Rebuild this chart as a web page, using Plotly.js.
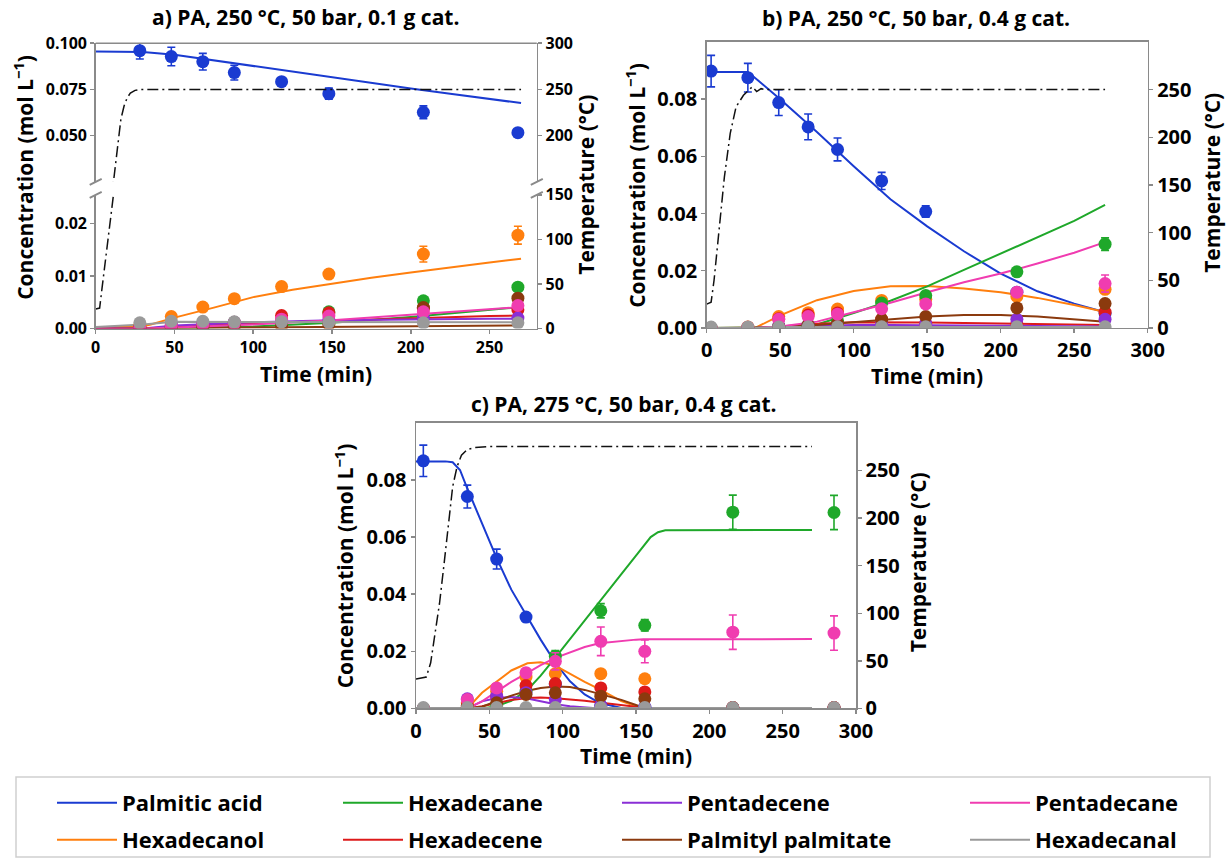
<!DOCTYPE html>
<html><head><meta charset="utf-8">
<script src="https://cdn.plot.ly/plotly-3.0.1.min.js"></script>
<style>html,body{margin:0;padding:0;background:#fff;}#chart{width:1227px;height:861px;}</style>
</head><body><div id="chart"></div>
<script>
// ================= DATA =================
const speciesNames = ['Palmitic acid','Hexadecanol','Hexadecane','Hexadecene','Pentadecene','Palmityl palmitate','Pentadecane','Hexadecanal'];

// ---- Panel a: PA, 250 °C, 50 bar, 0.1 g cat. ----
const aTime = [28, 48, 68, 88, 118, 148, 208, 268];
const aPalmiticAcid    = [0.0960, 0.0928, 0.0900, 0.0841, 0.0792, 0.0727, 0.0626, 0.0516];
const aPalmiticAcidErr = [0.0045, 0.0050, 0.0045, 0.0040, 0.0020, 0.0030, 0.0035, 0.0010];
const aHexadecanol     = [0.0005, 0.0023, 0.0041, 0.0057, 0.0080, 0.0104, 0.0142, 0.0178];
const aHexadecanolErr  = [0, 0.0003, 0.0004, 0.0005, 0.0006, 0.0007, 0.0015, 0.0017];
const aHexadecane      = [0.0002, 0.0003, 0.0005, 0.0007, 0.0015, 0.0032, 0.0053, 0.0079];
const aHexadecene      = [0.0002, 0.0006, 0.0008, 0.0012, 0.0025, 0.0030, 0.0039, 0.0036];
const aPentadecene     = [0.0002, 0.0008, 0.0010, 0.0012, 0.0015, 0.0017, 0.0020, 0.0020];
const aPalmitylPalm    = [0.0001, 0.0002, 0.0003, 0.0004, 0.0005, 0.0008, 0.0040, 0.0058];
const aPentadecane     = [0.0002, 0.0005, 0.0008, 0.0010, 0.0018, 0.0024, 0.0032, 0.0044];
const aHexadecanal     = [0.0011, 0.0014, 0.0014, 0.0013, 0.0013, 0.0012, 0.0011, 0.0011];

const aFitTimePA = [0, 25, 30, 50, 75, 100, 125, 150, 175, 200, 225, 250, 270];
const aFitPalmiticAcid = [0.0955, 0.0955, 0.0953, 0.0938, 0.0907, 0.0876, 0.0846, 0.0815, 0.0785, 0.0755, 0.0727, 0.0700, 0.0676];
const aFitTimeOl = [0, 28, 35, 50, 75, 100, 125, 150, 175, 200, 225, 250, 270];
const aFitHexadecanol = [0.0003, 0.0003, 0.0008, 0.0021, 0.0040, 0.0060, 0.0074, 0.0086, 0.0097, 0.0107, 0.0117, 0.0126, 0.0133];
const aFitTime = [0, 30, 50, 100, 150, 200, 250, 270];
const aFitHexadecane   = [0, 0, 0.0001, 0.0004, 0.0011, 0.0022, 0.0035, 0.0041];
const aFitHexadecene   = [0, 0, 0.0003, 0.0010, 0.0015, 0.0020, 0.0024, 0.0025];
const aFitPentadecene  = [0, 0, 0.0006, 0.0012, 0.0016, 0.0018, 0.0019, 0.0019];
const aFitPalmitylPalm = [0, 0, 0.0001, 0.0002, 0.0003, 0.0004, 0.0005, 0.0006];
const aFitPentadecane  = [0, 0, 0.0002, 0.0008, 0.0016, 0.0026, 0.0036, 0.0041];
const aFitHexadecanal  = [0.0003, 0.0008, 0.0013, 0.0013, 0.0013, 0.0012, 0.0012, 0.0012];
const aTempTime = [0, 2.5, 4, 6, 8, 10, 12, 14, 16, 18, 20, 22, 25, 28, 32, 270];
const aTemp     = [22, 23, 45, 75, 105, 135, 165, 195, 218, 232, 241, 246, 249, 250, 250, 250];

// ---- Panel b: PA, 250 °C, 50 bar, 0.4 g cat. ----
const bTime = [3, 28, 49, 69, 89, 119, 149, 211, 271];
const bPalmiticAcid    = [0.0898, 0.0875, 0.0788, 0.0703, 0.0624, 0.0514, 0.0407, 0.0125, 0.0050];
const bPalmiticAcidErr = [0.0055, 0.0050, 0.0045, 0.0045, 0.0040, 0.0030, 0.0020, 0.0010, 0.0010];
const bHexadecanol     = [0, 0.0003, 0.0040, 0.0053, 0.0066, 0.0096, 0.0100, 0.0110, 0.0135];
const bHexadecanolErr  = [0, 0, 0.0004, 0.0005, 0.0006, 0.0008, 0.0008, 0.0010, 0.0012];
const bHexadecane      = [0, 0, 0.0005, 0.0010, 0.0025, 0.0087, 0.0113, 0.0196, 0.0293];
const bHexadecaneErr   = [0, 0, 0, 0, 0, 0.0010, 0.0012, 0.0012, 0.0022];
const bHexadecene      = [0, 0.0002, 0.0032, 0.0045, 0.0052, 0.0030, 0.0015, 0.0015, 0.0055];
const bPentadecene     = [0, 0, 0.0008, 0.0010, 0.0012, 0.0013, 0.0015, 0.0030, 0.0030];
const bPalmitylPalm    = [0, 0, 0.0005, 0.0010, 0.0015, 0.0030, 0.0040, 0.0070, 0.0085];
const bPentadecane     = [0, 0.0002, 0.0030, 0.0040, 0.0048, 0.0067, 0.0084, 0.0125, 0.0155];
const bPentadecaneErr  = [0, 0, 0, 0, 0, 0.0010, 0.0010, 0.0015, 0.0030];
const bHexadecanal     = [0.0003, 0.0003, 0.0003, 0.0004, 0.0004, 0.0004, 0.0004, 0.0004, 0.0004];

const bFitTimePA = [0, 28, 35, 50, 75, 100, 125, 150, 175, 200, 225, 250, 271];
const bFitPalmiticAcid = [0.0895, 0.0895, 0.0865, 0.0800, 0.0685, 0.0565, 0.0450, 0.0355, 0.0268, 0.0190, 0.0128, 0.0085, 0.0055];
const bFitTime = [0, 33, 50, 75, 100, 125, 150, 175, 200, 225, 250, 271];
const bFitHexadecanol  = [0, 0, 0.0044, 0.0097, 0.0129, 0.0146, 0.0147, 0.0138, 0.0125, 0.0105, 0.0080, 0.0056];
const bFitHexadecane   = [0, 0, 0.0002, 0.0012, 0.0052, 0.0095, 0.0145, 0.0203, 0.0260, 0.0316, 0.0374, 0.0430];
const bFitHexadecene   = [0, 0, 0.0005, 0.0015, 0.0020, 0.0020, 0.0019, 0.0017, 0.0015, 0.0013, 0.0011, 0.0010];
const bFitPentadecene  = [0, 0, 0.0004, 0.0008, 0.0010, 0.0010, 0.0010, 0.0009, 0.0008, 0.0007, 0.0006, 0.0005];
const bFitPalmitylPalm = [0, 0, 0.0002, 0.0010, 0.0020, 0.0032, 0.0040, 0.0045, 0.0045, 0.0040, 0.0031, 0.0022];
const bFitPentadecane  = [0, 0, 0.0005, 0.0022, 0.0055, 0.0088, 0.0125, 0.0160, 0.0190, 0.0225, 0.0263, 0.0300];
const bFitHexadecanal  = [0, 0, 0.0003, 0.0003, 0.0003, 0.0003, 0.0003, 0.0003, 0.0003, 0.0003, 0.0003, 0.0003];
const bTempTime = [0, 3, 5, 8, 12, 16, 20, 25, 28, 31, 34, 37, 40, 271];
const bTemp     = [25, 27, 50, 99, 158, 204, 232, 244, 248, 253, 248, 251, 250, 250];

// ---- Panel c: PA, 275 °C, 50 bar, 0.4 g cat. ----
const cTime = [5, 35, 55, 75, 95, 126, 156, 216, 285];
const cPalmiticAcid    = [0.0867, 0.0742, 0.0523, 0.0320, 0.0085, 0.0010, 0.0005, 0.0003, 0.0003];
const cPalmiticAcidErr = [0.0055, 0.0040, 0.0035, 0.0015, 0.0010, 0, 0, 0, 0];
const cHexadecanol     = [0, 0.0020, 0.0060, 0.0110, 0.0122, 0.0122, 0.0104, 0.0003, 0.0003];
const cHexadecane      = [0, 0, 0.0010, 0.0060, 0.0183, 0.0342, 0.0291, 0.0687, 0.0686];
const cHexadecaneErr   = [0, 0, 0, 0, 0.0020, 0.0025, 0.0020, 0.0060, 0.0060];
const cHexadecene      = [0, 0.0010, 0.0040, 0.0080, 0.0087, 0.0072, 0.0058, 0.0003, 0.0003];
const cPentadecene     = [0, 0.0034, 0.0043, 0.0055, 0.0031, 0.0010, 0.0005, 0.0002, 0.0002];
const cPalmitylPalm    = [0, 0.0005, 0.0020, 0.0049, 0.0055, 0.0043, 0.0034, 0.0002, 0.0002];
const cPentadecane     = [0, 0.0031, 0.0072, 0.0125, 0.0165, 0.0235, 0.0200, 0.0267, 0.0264];
const cPentadecaneErr  = [0, 0, 0.0010, 0.0015, 0.0030, 0.0050, 0.0040, 0.0060, 0.0060];
const cHexadecanal     = [0.0003, 0.0003, 0.0003, 0.0003, 0.0003, 0.0003, 0.0003, 0.0003, 0.0003];

const cFitTime = [0, 20, 25, 30, 35, 45, 55, 65, 76, 85, 95, 105, 115, 125, 140, 150, 155, 160, 165, 170, 270];
const cFitPalmiticAcid = [0.0865, 0.0865, 0.0862, 0.0835, 0.0770, 0.0648, 0.0526, 0.0416, 0.0320, 0.0241, 0.0160, 0.0095, 0.0049, 0.0020, 0.0002, 0.0001, 0, 0, 0, 0, 0];
const cFitHexadecanol  = [0, 0, 0, 0, 0, 0.0055, 0.0095, 0.0133, 0.0158, 0.0162, 0.0150, 0.0122, 0.0093, 0.0068, 0.0026, 0.0008, 0.0002, 0, 0, 0, 0];
const cFitHexadecane   = [0, 0, 0, 0, 0, 0, 0.0008, 0.0027, 0.0065, 0.0115, 0.0178, 0.0242, 0.0307, 0.0373, 0.0470, 0.0535, 0.0568, 0.0600, 0.0617, 0.0624, 0.0625];
const cFitHexadecene   = [0, 0, 0, 0, 0, 0.0008, 0.0020, 0.0030, 0.0037, 0.0038, 0.0036, 0.0032, 0.0027, 0.0021, 0.0012, 0.0005, 0.0002, 0, 0, 0, 0];
const cFitPentadecene  = [0, 0, 0, 0, 0, 0.0025, 0.0037, 0.0040, 0.0035, 0.0025, 0.0015, 0.0008, 0.0003, 0, 0, 0, 0, 0, 0, 0, 0];
const cFitPalmitylPalm = [0, 0, 0, 0, 0, 0.0006, 0.0025, 0.0045, 0.0062, 0.0072, 0.0077, 0.0075, 0.0065, 0.0052, 0.0030, 0.0012, 0.0003, 0, 0, 0, 0];
const cFitPentadecane  = [0, 0, 0, 0, 0, 0.0025, 0.0060, 0.0093, 0.0125, 0.0152, 0.0177, 0.0197, 0.0215, 0.0228, 0.0237, 0.0241, 0.0242, 0.0242, 0.0243, 0.0243, 0.0243];
const cFitHexadecanal  = [0.0002, 0.0002, 0.0002, 0.0002, 0.0002, 0.0002, 0.0002, 0.0002, 0.0002, 0.0002, 0.0002, 0.0002, 0.0002, 0.0002, 0.0002, 0.0002, 0.0002, 0.0002, 0.0002, 0.0002, 0.0002];
const cTempTime = [0, 7, 10, 13, 16, 19, 22, 25, 28, 31, 35, 40, 50, 270];
const cTemp     = [31, 33, 48, 80, 110, 150, 195, 233, 254, 266, 272, 274, 275, 275];

// axis tick labels
const aLowTicks = [0, 0.01, 0.02], aLowLabels = ['0.00', '0.01', '0.02'];
const aUpTicks = [0.05, 0.075, 0.1], aUpLabels = ['0.050', '0.075', '0.100'];
const aTempLowTicks = [0, 50, 100, 150], aTempUpTicks = [200, 250, 300];
const concTicks = [0, 0.02, 0.04, 0.06, 0.08], concLabels = ['0.00', '0.02', '0.04', '0.06', '0.08'];
const tempTicks = [0, 50, 100, 150, 200, 250];
const aTimeTicks = [0, 50, 100, 150, 200, 250];
const bcTimeTicks = [0, 50, 100, 150, 200, 250, 300];

// ================= STYLE =================
const colors = {
  'Palmitic acid': '#1a3bd1', 'Hexadecanol': '#ff7f0e', 'Hexadecane': '#1fa82a', 'Hexadecene': '#dd1a1a',
  'Pentadecene': '#8a2fd6', 'Palmityl palmitate': '#8b3a0e', 'Pentadecane': '#f03cb0', 'Hexadecanal': '#9a9a9a'
};
const legendOf = {
  'Palmitic acid': 'legend', 'Hexadecane': 'legend2', 'Pentadecene': 'legend3', 'Pentadecane': 'legend4',
  'Hexadecanol': 'legend5', 'Hexadecene': 'legend6', 'Palmityl palmitate': 'legend7', 'Hexadecanal': 'legend8'
};
const FONT = '"Open Sans", "Noto Sans", sans-serif';
const W = 1227, H = 861;
const PX = x => x / W, PY = y => 1 - y / H;
const SPINE = '#8a8a8a';

const panels = {
  a: {time: aTime, x: 'x',
      markers: [aPalmiticAcid, aHexadecanol, aHexadecane, aHexadecene, aPentadecene, aPalmitylPalm, aPentadecane, aHexadecanal],
      errs: {'Palmitic acid': aPalmiticAcidErr, 'Hexadecanol': aHexadecanolErr},
      fits: [[aFitTimePA, aFitPalmiticAcid], [aFitTimeOl, aFitHexadecanol], [aFitTime, aFitHexadecane], [aFitTime, aFitHexadecene],
             [aFitTime, aFitPentadecene], [aFitTime, aFitPalmitylPalm], [aFitTime, aFitPentadecane], [aFitTime, aFitHexadecanal]],
      yFor: name => name === 'Palmitic acid' ? 'y2' : 'y',
      temp: [aTempTime, aTemp], tempAxes: ['y3', 'y4']},
  b: {time: bTime, x: 'x2',
      markers: [bPalmiticAcid, bHexadecanol, bHexadecane, bHexadecene, bPentadecene, bPalmitylPalm, bPentadecane, bHexadecanal],
      errs: {'Palmitic acid': bPalmiticAcidErr, 'Hexadecanol': bHexadecanolErr, 'Hexadecane': bHexadecaneErr, 'Pentadecane': bPentadecaneErr},
      fits: [[bFitTimePA, bFitPalmiticAcid], [bFitTime, bFitHexadecanol], [bFitTime, bFitHexadecane], [bFitTime, bFitHexadecene],
             [bFitTime, bFitPentadecene], [bFitTime, bFitPalmitylPalm], [bFitTime, bFitPentadecane], [bFitTime, bFitHexadecanal]],
      yFor: () => 'y5', temp: [bTempTime, bTemp], tempAxes: ['y6']},
  c: {time: cTime, x: 'x3',
      markers: [cPalmiticAcid, cHexadecanol, cHexadecane, cHexadecene, cPentadecene, cPalmitylPalm, cPentadecane, cHexadecanal],
      errs: {'Palmitic acid': cPalmiticAcidErr, 'Hexadecane': cHexadecaneErr, 'Pentadecane': cPentadecaneErr},
      fits: [[cFitTime, cFitPalmiticAcid], [cFitTime, cFitHexadecanol], [cFitTime, cFitHexadecane], [cFitTime, cFitHexadecene],
             [cFitTime, cFitPentadecene], [cFitTime, cFitPalmitylPalm], [cFitTime, cFitPentadecane], [cFitTime, cFitHexadecanal]],
      yFor: () => 'y7', temp: [cTempTime, cTemp], tempAxes: ['y8']}
};

const traces = [];
['a', 'b', 'c'].forEach(key => {
  const p = panels[key];
  speciesNames.forEach((name, i) => {
    traces.push({
      type: 'scatter', mode: 'lines', name: name, x: p.fits[i][0], y: p.fits[i][1],
      xaxis: p.x, yaxis: p.yFor(name), line: {color: colors[name], width: 2},
      showlegend: key === 'b', legend: legendOf[name], hoverinfo: 'skip'
    });
  });
  p.tempAxes.forEach(ya => {
    traces.push({
      type: 'scatter', mode: 'lines', name: 'Temperature', x: p.temp[0], y: p.temp[1],
      xaxis: p.x, yaxis: ya, line: {color: '#111', width: 1.5, dash: '11px,4px,2px,4px'},
      showlegend: false, hoverinfo: 'skip'
    });
  });
  speciesNames.forEach((name, i) => {
    const err = p.errs[name];
    const t = {
      type: 'scatter', mode: 'markers', name: name, x: p.time, y: p.markers[i],
      xaxis: p.x, yaxis: p.yFor(name), marker: {color: colors[name], size: 13},
      showlegend: false
    };
    if (err) t.error_y = {type: 'data', array: err, visible: true, color: colors[name], thickness: 1.6, width: 4};
    traces.push(t);
  });
});

const tickFontA = {family: FONT, size: 16, color: '#000', weight: 'bold'};
const tickFontBC = {family: FONT, size: 20, color: '#000', weight: 'bold'};
const axBase = {showgrid: false, zeroline: false, showline: true, linecolor: SPINE, linewidth: 1.5,
                ticks: 'outside', ticklen: 4, tickwidth: 1.5, tickcolor: SPINE, fixedrange: true};

const layout = {
  width: W, height: H, autosize: false, margin: {l: 0, r: 0, t: 0, b: 0},
  paper_bgcolor: '#fff', plot_bgcolor: 'rgba(0,0,0,0)', showlegend: true,
  font: {family: FONT, color: '#000'},
  xaxis: Object.assign({}, axBase, {domain: [PX(95.7), PX(536.8)], range: [0, 280], anchor: 'y',
          tickvals: aTimeTicks, tickfont: tickFontA}),
  yaxis: Object.assign({}, axBase, {domain: [PY(329), PY(195)], range: [0, 0.0255], anchor: 'x',
          tickvals: aLowTicks, ticktext: aLowLabels, tickfont: tickFontA}),
  yaxis2: Object.assign({}, axBase, {domain: [PY(182), PY(43.3)], range: [0.025, 0.1], anchor: 'x',
          tickvals: aUpTicks, ticktext: aUpLabels, tickfont: tickFontA}),
  yaxis3: Object.assign({}, axBase, {overlaying: 'y', side: 'right', anchor: 'x', range: [0, 150],
          tickvals: aTempLowTicks, tickfont: tickFontA}),
  yaxis4: Object.assign({}, axBase, {overlaying: 'y2', side: 'right', anchor: 'x', range: [150, 300],
          tickvals: aTempUpTicks, tickfont: tickFontA}),
  xaxis2: Object.assign({}, axBase, {domain: [PX(706.7), PX(1147.7)], range: [0, 300], anchor: 'y5', mirror: true,
          tickvals: bcTimeTicks, tickfont: tickFontBC}),
  yaxis5: Object.assign({}, axBase, {domain: [PY(328.3), PY(42)], range: [0, 0.1], anchor: 'x2',
          tickvals: concTicks, ticktext: concLabels, tickfont: tickFontBC}),
  yaxis6: Object.assign({}, axBase, {overlaying: 'y5', side: 'right', anchor: 'x2', range: [0, 300],
          tickvals: tempTicks, tickfont: tickFontBC}),
  xaxis3: Object.assign({}, axBase, {domain: [PX(416), PX(856)], range: [0, 300], anchor: 'y7', mirror: true,
          tickvals: bcTimeTicks, tickfont: tickFontBC}),
  yaxis7: Object.assign({}, axBase, {domain: [PY(709.3), PY(423.3)], range: [0, 0.1], anchor: 'x3',
          tickvals: concTicks, ticktext: concLabels, tickfont: tickFontBC}),
  yaxis8: Object.assign({}, axBase, {overlaying: 'y7', side: 'right', anchor: 'x3', range: [0, 300],
          tickvals: tempTicks, tickfont: tickFontBC}),
  annotations: [],
  shapes: []
};

const legendPos = {
  'legend':  [52, 803], 'legend2': [338, 803], 'legend3': [617, 803], 'legend4': [965, 803],
  'legend5': [52, 841], 'legend6': [338, 841], 'legend7': [617, 841], 'legend8': [965, 841]
};
Object.keys(legendPos).forEach(k => {
  layout[k] = {x: PX(legendPos[k][0]), y: PY(legendPos[k][1]), xanchor: 'left', yanchor: 'middle',
    bgcolor: 'rgba(0,0,0,0)', borderwidth: 0, itemwidth: 60, itemclick: false, itemdoubleclick: false,
    font: {family: FONT, size: 22, color: '#000', weight: 'bold'}};
});
layout.shapes.push({type: 'rect', xref: 'paper', yref: 'paper', x0: PX(16), x1: PX(1210), y0: PY(778), y1: PY(858),
  line: {color: '#cfcfcf', width: 1.5}, fillcolor: 'rgba(0,0,0,0)', layer: 'below'});

layout.shapes.push({type: 'line', xref: 'paper', yref: 'paper', x0: PX(95.7), x1: PX(536.8), y0: PY(43.3), y1: PY(43.3),
  line: {color: SPINE, width: 1.5}});
[95.7, 536.8].forEach(xp => {
  [182, 195].forEach(yp => {
    layout.shapes.push({type: 'line', xref: 'paper', yref: 'paper', x0: PX(xp - 6), x1: PX(xp + 6),
      y0: PY(yp + 3), y1: PY(yp - 3), line: {color: SPINE, width: 2}});
  });
});

function ann(text, x, y, size, angle) {
  layout.annotations.push({text: text, x: PX(x), y: PY(y), xref: 'paper', yref: 'paper', showarrow: false,
    xanchor: 'center', yanchor: 'middle', textangle: angle || 0,
    font: {family: FONT, size: size, color: '#000', weight: 'bold'}});
}
ann('a) PA, 250 °C, 50 bar, 0.1 g cat.', 305, 17, 21);
ann('b) PA, 250 °C, 50 bar, 0.4 g cat.', 916, 18, 21);
ann('c) PA, 275 °C, 50 bar, 0.4 g cat.', 624, 404, 21);
ann('Concentration (mol L<sup>−1</sup>)', 24, 178, 21, -90);
ann('Concentration (mol L<sup>−1</sup>)', 636, 185, 21, -90);
ann('Concentration (mol L<sup>−1</sup>)', 344, 567, 21, -90);
ann('Temperature (°C)', 586, 185, 21, -90);
ann('Temperature (°C)', 1212, 183, 21, -90);
ann('Temperature (°C)', 918, 563, 21, -90);
ann('Time (min)', 316, 374, 21);
ann('Time (min)', 927, 376, 21);
ann('Time (min)', 636, 757, 21);

Plotly.newPlot('chart', traces, layout, {displayModeBar: false, staticPlot: true});
</script>
</body></html>
